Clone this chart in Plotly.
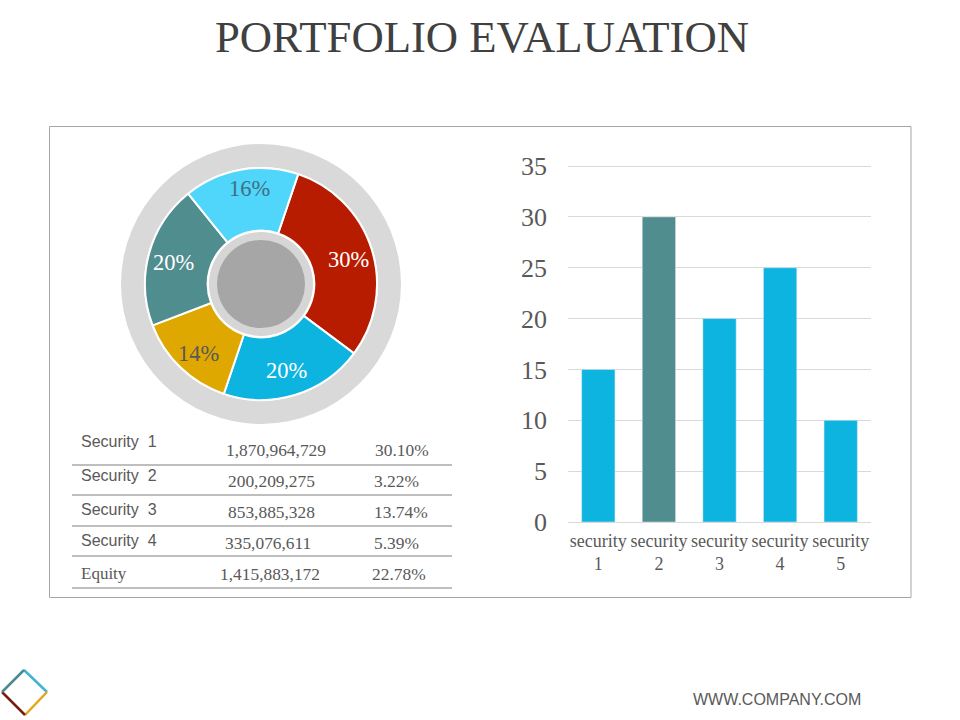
import plotly.graph_objects as go

# pie data
pie_labels = ["a", "b", "c", "d", "e"]
pie_values = [30, 20, 14, 20, 16]
pie_text = ["30%", "20%", "14%", "20%", "16%"]
pie_colors = ["#b81c00", "#0db4e0", "#dfa800", "#508d8e", "#50d5fb"]

# bar data
bar_cats = ["security<br>1", "security<br>2", "security<br>3", "security<br>4", "security<br>5"]
bar_values = [15, 30, 20, 25, 10]
bar_colors = ["#0db4e0", "#508d8e", "#0db4e0", "#0db4e0", "#0db4e0"]
y_ticks = [0, 5, 10, 15, 20, 25, 30, 35]

# table data
row_names = ["Security  1", "Security  2", "Security  3", "Security  4", "Equity"]
row_amounts = ["1,870,964,729", "200,209,275", "853,885,328", "335,076,611", "1,415,883,172"]
row_shares = ["30.10%", "3.22%", "13.74%", "5.39%", "22.78%"]

SERIF = "Liberation Serif, serif"
SANS = "Liberation Sans, Arial, sans-serif"


def px(x):
    return x / 960


def py(y):
    return 1 - y / 720


def circle(cx, cy, r, fill):
    return dict(type="circle", xref="paper", yref="paper", layer="below",
                x0=px(cx - r), x1=px(cx + r), y0=py(cy + r), y1=py(cy - r),
                fillcolor=fill, line=dict(width=0))


def seg(x0, y0, x1, y1, color, width=1):
    return dict(type="line", xref="paper", yref="paper",
                x0=px(x0), x1=px(x1), y0=py(y0), y1=py(y1),
                line=dict(color=color, width=width))


def label(x, y, text, size, color, font=SERIF, anchor="center"):
    return dict(x=px(x), y=py(y), xref="paper", yref="paper", text=text, showarrow=False,
                xanchor=anchor, yanchor="middle",
                font=dict(family=font, size=size, color=color))


fig = go.Figure()

fig.add_trace(go.Pie(labels=pie_labels, values=pie_values, sort=False, direction="clockwise",
                     rotation=18.7, hole=0.46, textinfo="none", hoverinfo="skip",
                     marker=dict(colors=pie_colors, line=dict(color="white", width=2)),
                     domain=dict(x=[px(261 - 116), px(261 + 116)], y=[py(284 + 116), py(284 - 116)]),
                     showlegend=False))

fig.add_trace(go.Bar(x=bar_cats, y=bar_values, marker_color=bar_colors, width=0.55,
                     showlegend=False, hoverinfo="skip"))

shapes = [
    dict(type="rect", xref="paper", yref="paper", x0=px(49.5), x1=px(911), y0=py(597.5), y1=py(126.5),
         line=dict(color="#a6a6a6", width=1), layer="below"),
    circle(261, 284, 140, "#d9d9d9"),
    circle(261, 284, 117, "white"),
    circle(261, 284, 52, "#d6d6d6"),
    circle(261, 284, 44, "#a6a6a6"),
    # logo
    seg(24, 670, 47, 692, "#3fb4d6", 2.5),
    seg(47, 692, 25, 715, "#dfa81c", 2.5),
    seg(25, 715, 2, 692, "#7a1c14", 2.5),
    seg(2, 692, 24, 670, "#4a8a90", 2.5),
]
for y in [465, 495, 526, 556, 588]:
    shapes.append(seg(72, y, 452, y, "#7f7f7f", 1))

annotations = [
    label(482, 37, "PORTFOLIO EVALUATION", 44.7, "#404040"),
    label(777, 699, "WWW.COMPANY.COM", 16, "#595959", SANS),
]

# labels on the pie
pie_label_pos = [(348, 259), (286, 371), (198, 353), (173, 262), (249, 189)]
pie_label_col = ["#ffffff", "#ffffff", "#595959", "#ffffff", "#3f6f80"]
for (x, y), t, c in zip(pie_label_pos, pie_text, pie_label_col):
    annotations.append(label(x, y, t, 22.5, c))

# table rows
name_y = [441, 475, 509, 540, 573]
amount_x = [276, 271, 271, 268, 270]
share_x = [402, 396, 401, 396, 399]
value_y = [450, 481, 512, 543, 574]
for i in range(5):
    is_equity = row_names[i] == "Equity"
    annotations.append(label(79, name_y[i], row_names[i].replace("  ", "\u00a0\u00a0"),
                             17 if is_equity else 16, "#595959", SERIF if is_equity else SANS, "left"))
    annotations.append(label(amount_x[i], value_y[i], row_amounts[i], 17.4, "#595959"))
    annotations.append(label(share_x[i], value_y[i], row_shares[i], 17.4, "#595959"))

fig.update_layout(
    width=960, height=720, margin=dict(l=0, r=0, t=0, b=0),
    paper_bgcolor="white", plot_bgcolor="white", bargap=0.45,
    shapes=shapes, annotations=annotations,
    xaxis=dict(domain=[px(568), px(871)], showgrid=False, ticks="", showline=True, linecolor="#d9d9d9",
               tickfont=dict(family=SERIF, size=18, color="#595959"), tickangle=0, automargin=False,
               ticklabelstandoff=2),
    # range runs a bit past 35, plotly drops a gridline sitting right on the axis end
    yaxis=dict(domain=[py(522), py(164)], range=[0, 35.2], tickvals=y_ticks, gridcolor="#d9d9d9",
               zeroline=False, ticks="", ticklabelstandoff=20,
               tickfont=dict(family=SERIF, size=26, color="#595959"), automargin=False),
)

# browser default body margin would push the figure 8px off
fig.write_html("out.html", post_script="document.body.style.margin='0';",
               config=dict(displayModeBar=False))
